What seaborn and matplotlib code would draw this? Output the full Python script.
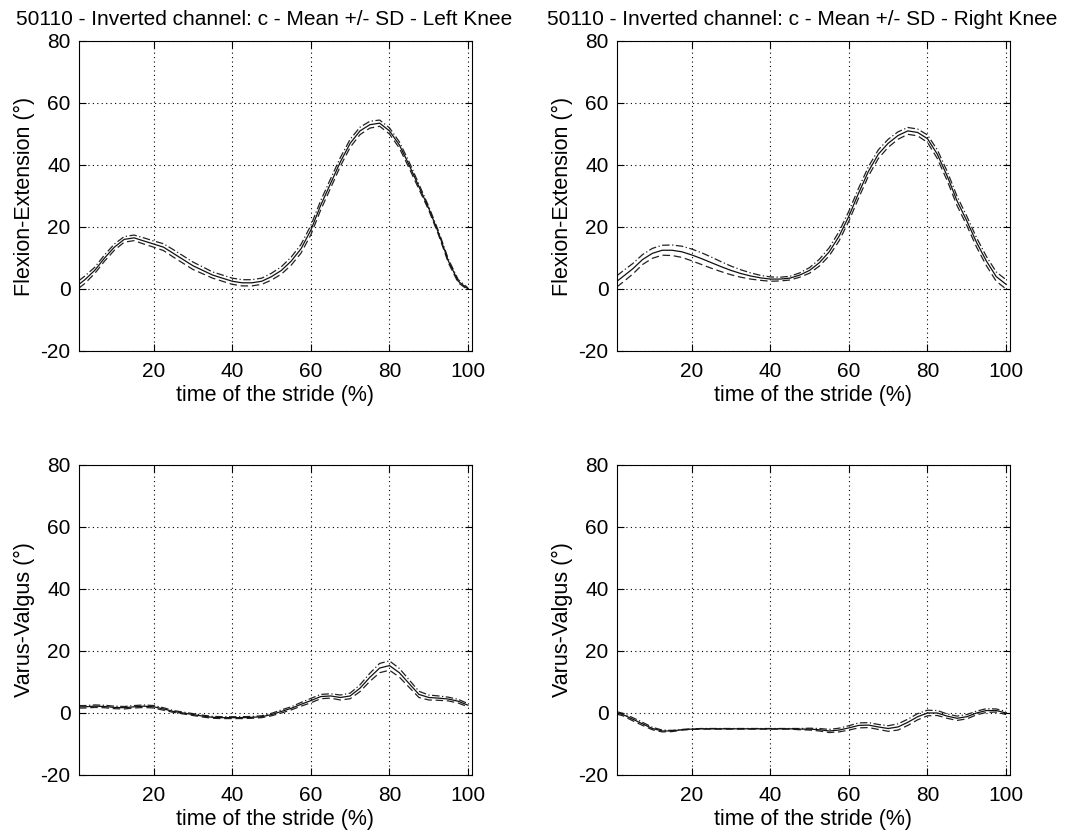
import numpy as np
import pandas as pd
import matplotlib
matplotlib.use("Agg")
import matplotlib.pyplot as plt
import seaborn as sns

# ---- data ----
x_pct = [1, 2.5, 5, 7.5, 10, 12.5, 15, 17.5, 20, 22.5, 25, 27.5, 30, 32.5, 35, 37.5, 40,
         42.5, 45, 47.5, 50, 52.5, 55, 57.5, 60, 62.5, 65, 67.5, 70, 72.5, 75, 77.5, 80,
         82.5, 85, 87.5, 90, 92.5, 95, 97.5, 100]

fe_left_mean = [1.5, 3, 6, 10, 13.5, 16, 16.5, 15.5, 14.5, 13.5, 11.5, 9.5, 7.5, 6, 4.5, 3.5, 2.5,
                2, 2, 2.5, 4, 6, 9, 13, 19, 27, 34, 41, 47, 51, 53, 53.5, 51,
                46.5, 40, 33, 26, 18, 9, 2.5, 0]
fe_left_sd = [1.2, 1.2, 1.0, 1.0, 1.0, 0.9, 0.9, 1.0, 1.0, 1.1, 1.2, 1.2, 1.2, 1.1, 1.0, 1.0, 1.0,
              1.0, 1.0, 1.0, 1.1, 1.2, 1.3, 1.4, 1.5, 1.5, 1.5, 1.4, 1.3, 1.2, 1.1, 1.0, 1.0,
              1.0, 1.0, 0.8, 0.6, 0.6, 0.6, 0.5, 0.3]

fe_right_mean = [2.5, 4, 6.5, 9.5, 11.5, 12.5, 12.5, 12, 11, 9.8, 8.5, 7.2, 6, 5, 4.2, 3.6, 3.2,
                 3.2, 3.5, 4.5, 6, 8.5, 12, 17, 23.5, 31, 38, 43.5, 47, 49.5, 51, 50.5, 48.5,
                 43.5, 36.5, 28.5, 22, 15, 9, 4, 1.5]
fe_right_sd = [1.8, 1.8, 1.7, 1.6, 1.6, 1.6, 1.7, 1.8, 1.9, 1.9, 1.8, 1.6, 1.4, 1.2, 1.0, 0.8, 0.7,
               0.6, 0.6, 0.7, 0.9, 1.1, 1.3, 1.5, 1.6, 1.6, 1.5, 1.4, 1.3, 1.2, 1.1, 1.1, 1.2,
               1.4, 1.5, 1.5, 1.5, 1.5, 1.5, 1.5, 1.5]

vv_left_mean = [2, 2, 2.2, 2.1, 1.8, 1.7, 2, 2.2, 2, 1.3, 0.5, 0, -0.5, -1, -1.4, -1.5, -1.5,
                -1.5, -1.4, -1.2, -0.5, 0.5, 1.5, 2.8, 4, 5.3, 5.5, 5, 5.5, 8, 11.5, 14.5, 15.3,
                13, 9.5, 6, 5, 4.8, 4.5, 3.8, 2.5]
vv_left_sd = [0.4, 0.4, 0.4, 0.4, 0.4, 0.4, 0.4, 0.4, 0.4, 0.4, 0.3, 0.3, 0.3, 0.3, 0.3, 0.3, 0.3,
              0.3, 0.3, 0.3, 0.4, 0.5, 0.5, 0.6, 0.7, 0.7, 0.7, 0.8, 0.9, 1.1, 1.3, 1.5, 1.5,
              1.4, 1.2, 1.0, 0.8, 0.7, 0.6, 0.6, 0.5]

vv_right_mean = [0, -0.5, -2, -3.5, -5, -5.8, -5.8, -5.4, -5.2, -5.1, -5.1, -5.1, -5.1, -5.1, -5.1, -5.1, -5.1,
                 -5.1, -5.1, -5.2, -5.2, -5.4, -5.8, -5.5, -4.8, -4.0, -3.9, -4.5, -5, -4.5, -3, -1.2, 0,
                 0, -1, -1.7, -1.2, 0, 0.8, 0.8, 0]
vv_right_sd = [0.4, 0.4, 0.5, 0.5, 0.4, 0.3, 0.2, 0.1, 0.1, 0.1, 0.1, 0.1, 0.1, 0.1, 0.1, 0.1, 0.1,
               0.1, 0.1, 0.2, 0.3, 0.4, 0.5, 0.6, 0.7, 0.8, 0.8, 0.8, 0.9, 1.0, 1.0, 1.0, 0.9,
               0.8, 0.7, 0.7, 0.7, 0.6, 0.6, 0.5, 0.5]

titles = ["50110 - Inverted channel: c - Mean +/- SD - Left Knee",
          "50110 - Inverted channel: c - Mean +/- SD - Right Knee"]
ylabels = ["Flexion-Extension (°)", "Varus-Valgus (°)"]
xlabel = "time of the stride (%)"
yticks = [-20, 0, 20, 40, 60, 80]
xticks = [20, 40, 60, 80, 100]

# ---- style ----
sns.set_theme(style="white")
plt.rcParams['font.family'] = ['Liberation Sans', 'DejaVu Sans']
plt.rcParams['font.size'] = 15
plt.rcParams['axes.unicode_minus'] = False

FS = 15
fig = plt.figure(figsize=(10.88, 8.4), dpi=100)
W, H = 1088, 840
def rect(l, t, r, b):
    return [l / W, 1 - b / H, (r - l) / W, (b - t) / H]

positions = [[rect(79, 41, 472, 351), rect(617, 41, 1010, 351)],
             [rect(79, 465, 472, 775), rect(617, 465, 1010, 775)]]
panels = [[(fe_left_mean, fe_left_sd), (fe_right_mean, fe_right_sd)],
          [(vv_left_mean, vv_left_sd), (vv_right_mean, vv_right_sd)]]

for r in range(2):
    for c in range(2):
        ax = fig.add_axes(positions[r][c])
        mean, sd = panels[r][c]
        df = pd.DataFrame({"x": x_pct, "mean": mean,
                           "upper": np.array(mean) + np.array(sd),
                           "lower": np.array(mean) - np.array(sd)})
        sns.lineplot(data=df, x="x", y="upper", ax=ax, color="#222222", lw=0.9,
                     linestyle=(0, (6, 2, 1, 2)))
        sns.lineplot(data=df, x="x", y="lower", ax=ax, color="#222222", lw=0.9,
                     linestyle=(0, (6, 3)))
        sns.lineplot(data=df, x="x", y="mean", ax=ax, color="#111111", lw=0.9)
        ax.set_xlim(1, 101)
        ax.set_ylim(-20, 80)
        ax.set_xticks(xticks)
        ax.set_yticks(yticks)
        ax.grid(True, color="black", linestyle=(0, (1, 3)), lw=0.8)
        ax.tick_params(direction="in", length=5, width=0.8, labelsize=FS,
                       top=True, right=True, bottom=True, left=True, colors="black")
        ax.tick_params(axis="x", pad=8)
        ax.tick_params(axis="y", pad=6)
        for sp in ax.spines.values():
            sp.set_visible(True)
            sp.set_color("black")
            sp.set_linewidth(0.8)
        ax.set_xlabel(xlabel, fontsize=15.5, color="black", labelpad=3)
        ax.set_ylabel(ylabels[r], fontsize=15.5, color="black", labelpad=4)
        if r == 0:
            ax.set_title(titles[c], fontsize=FS, color="black", pad=11.5, x=0.472)

fig.savefig("out.png", dpi=100, facecolor="white")
